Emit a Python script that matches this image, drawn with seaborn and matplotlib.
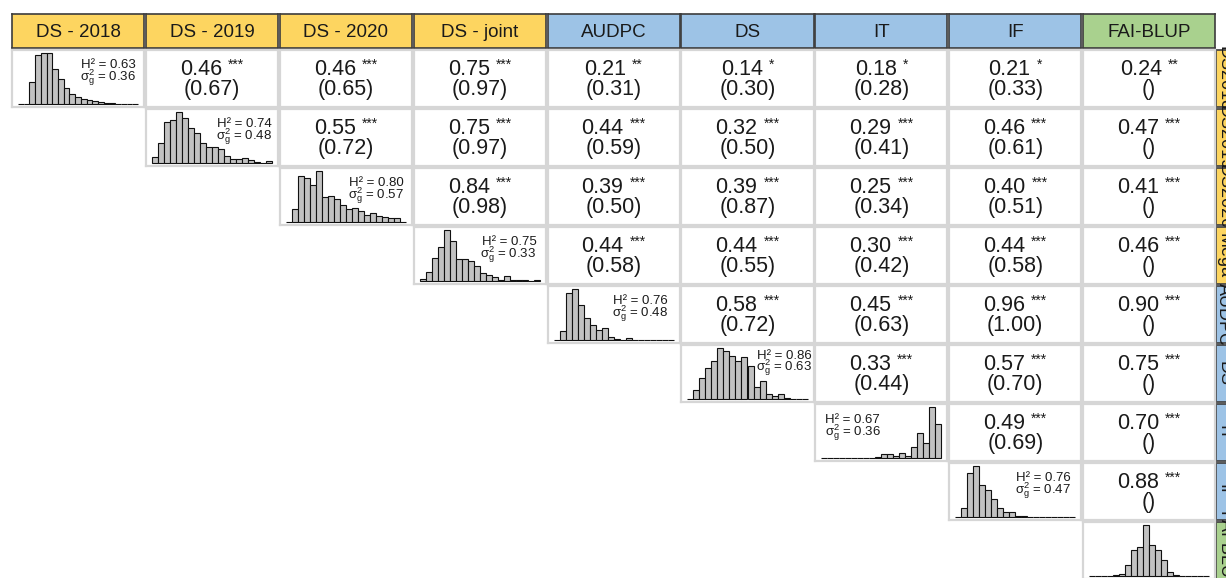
import numpy as np
import pandas as pd
import matplotlib
matplotlib.use("Agg")
import matplotlib.pyplot as plt
import seaborn as sns
from matplotlib.transforms import offset_copy

sns.set_theme(style="white")
plt.rcParams["font.family"] = ["Liberation Sans", "DejaVu Sans"]
plt.rcParams["mathtext.fontset"] = "custom"
plt.rcParams["mathtext.rm"] = "Liberation Sans"
plt.rcParams["mathtext.it"] = "Liberation Sans"

# column / row labels
top_labels = ["DS - 2018", "DS - 2019", "DS - 2020", "DS - joint", "AUDPC", "DS", "IT", "IF", "FAI-BLUP"]
side_labels = ["DS2018", "DS2019", "DS2020", "Mega", "AUDPC", "DS", "IT", "IF", "FAI-BLUP"]
group = ["y", "y", "y", "y", "b", "b", "b", "b", "g"]
group_colors = {"y": "#fdd560", "b": "#9dc3e6", "g": "#a9d18e"}

# upper triangle: phenotypic correlation, significance, genetic correlation
r_pheno = [
    [0.46, 0.46, 0.75, 0.21, 0.14, 0.18, 0.21, 0.24],
    [0.55, 0.75, 0.44, 0.32, 0.29, 0.46, 0.47],
    [0.84, 0.39, 0.39, 0.25, 0.40, 0.41],
    [0.44, 0.44, 0.30, 0.44, 0.46],
    [0.58, 0.45, 0.96, 0.90],
    [0.33, 0.57, 0.75],
    [0.49, 0.70],
    [0.88],
]
signif = [
    ["***", "***", "***", "**", "*", "*", "*", "**"],
    ["***"] * 7,
    ["***"] * 6,
    ["***"] * 5,
    ["***"] * 4,
    ["***"] * 3,
    ["***"] * 2,
    ["***"],
]
r_gen = [
    ["0.67", "0.65", "0.97", "0.31", "0.30", "0.28", "0.33", ""],
    ["0.72", "0.97", "0.59", "0.50", "0.41", "0.61", ""],
    ["0.98", "0.50", "0.87", "0.34", "0.51", ""],
    ["0.58", "0.55", "0.42", "0.58", ""],
    ["0.72", "0.63", "1.00", ""],
    ["0.44", "0.70", ""],
    ["0.69", ""],
    [""],
]

# diagonal: heritability, genetic variance and histogram counts
h2 = [0.63, 0.74, 0.80, 0.75, 0.76, 0.86, 0.67, 0.76, None]
sg2 = [0.36, 0.48, 0.57, 0.33, 0.48, 0.63, 0.36, 0.47, None]
hist_counts = [
    [1, 1, 67, 147, 155, 155, 107, 77, 50, 32, 22, 15, 12, 9, 6, 4, 3, 2, 1, 1, 2],
    [18, 60, 122, 128, 153, 135, 105, 90, 60, 47, 47, 42, 22, 12, 14, 15, 10, 4, 2, 7],
    [2, 42, 142, 135, 115, 158, 78, 82, 70, 52, 40, 45, 35, 22, 28, 20, 18, 14, 12, 2],
    [7, 30, 72, 105, 157, 122, 67, 67, 62, 48, 25, 20, 14, 5, 16, 5, 3, 3, 1, 5],
    [2, 27, 142, 155, 107, 67, 47, 32, 37, 9, 3, 2, 7, 1, 2, 1, 0, 0, 1, 2],
    [2, 30, 65, 94, 117, 157, 147, 132, 115, 127, 102, 37, 57, 17, 9, 17, 4, 1, 0, 2],
    [1, 0, 0, 0, 0, 0, 0, 0, 2, 3, 12, 12, 7, 15, 7, 33, 78, 45, 156, 103],
    [1, 28, 135, 158, 98, 83, 55, 30, 18, 15, 5, 3, 1, 0, 0, 1, 1, 0, 1, 1],
    [0, 1, 1, 1, 3, 8, 33, 80, 89, 155, 95, 80, 48, 14, 4, 1, 0, 1, 0, 1],
]

# where the H2 / sigma label sits inside each diagonal panel (axes fraction)
h2_pos = [(0.94, 0.685, "right"), (0.955, 0.685, "right"), (0.94, 0.685, "right"),
          (0.93, 0.685, "right"), (0.91, 0.685, "right"), (0.99, 0.76, "right"),
          (0.07, 0.67, "left"), (0.92, 0.685, "right"), (0.94, 0.685, "right")]

W, H = 1226, 578
fig = plt.figure(figsize=(W / 100, H / 100), dpi=100)


def add_ax(x, y, w, h):
    return fig.add_axes([x / W, 1 - (y + h) / H, w / W, h / H])


n = len(top_labels)
col_x = [12 + j * 133.9 for j in range(n)]
row_y = [50 + i * 59 for i in range(n)]
cw, rh = 132, 57
renderer = fig.canvas.get_renderer()

# header strips
for j, lab in enumerate(top_labels):
    ax = add_ax(col_x[j], 14, cw, 34)
    ax.set_facecolor(group_colors[group[j]])
    ax.set_xticks([])
    ax.set_yticks([])
    for s in ax.spines.values():
        s.set_color("#3c3c3c")
        s.set_linewidth(1.2)
    ax.text(0.5, 0.47, lab, ha="center", va="center", fontsize=13.5, color="#1a1a1a", transform=ax.transAxes)

# right strips (cut off by the picture edge)
for i, lab in enumerate(side_labels):
    ax = add_ax(1216, row_y[i], 34, rh)
    ax.set_facecolor(group_colors[group[i]])
    ax.set_xticks([])
    ax.set_yticks([])
    for s in ax.spines.values():
        s.set_color("#3c3c3c")
        s.set_linewidth(1.2)
    t = ax.text(0.23, 0.5, lab, ha="center", va="center", rotation=-90, fontsize=13,
                color="#1a1a1a", transform=ax.transAxes)
    t.set_clip_path(ax.patch)

# panels
for i in range(n):
    for j in range(i, n):
        ax = add_ax(col_x[j], row_y[i], cw, rh)
        ax.set_facecolor("white")
        if i == j:
            counts = hist_counts[i]
            nb = len(counts)
            hd = pd.DataFrame({"x": np.arange(nb) + 0.5, "w": counts})
            sns.histplot(data=hd, x="x", weights="w", bins=nb, binrange=(0, nb), ax=ax,
                         color="#c2c2c2", edgecolor="#111111", linewidth=0.8, alpha=1)
            ax.set_xlim(-0.05 * nb, 1.05 * nb)
            ax.set_ylim(-0.05 * max(counts), 1.05 * max(counts))
            ax.set_xlabel("")
            ax.set_ylabel("")
            if h2[i] is not None:
                tx, ty, ha = h2_pos[i]
                ax.text(tx, ty, f"H² = {h2[i]:.2f}", ha=ha, va="baseline", fontsize=9.5,
                        color="#1a1a1a", transform=ax.transAxes)
                ax.text(tx, ty - 0.215, r"$\mathregular{\sigma_g^2}$" + f" = {sg2[i]:.2f}", ha=ha,
                        va="baseline", fontsize=9.5, color="#1a1a1a", transform=ax.transAxes)
        else:
            k = j - i - 1
            num = f"{r_pheno[i][k]:.2f}"
            stars = signif[i][k]
            t1 = ax.text(0.5, 0.561, num, ha="left", va="baseline", fontsize=15.5,
                         color="#1a1a1a", transform=ax.transAxes)
            t2 = ax.text(0.5, 0.667, stars, ha="left", va="baseline", fontsize=10,
                         color="#1a1a1a", transform=ax.transAxes)
            w1 = t1.get_window_extent(renderer).width
            w2 = t2.get_window_extent(renderer).width
            gap = 6
            total = w1 + gap + w2
            t1.set_transform(offset_copy(ax.transAxes, fig=fig, x=-total / 2, y=0, units="dots"))
            t2.set_transform(offset_copy(ax.transAxes, fig=fig, x=-total / 2 + w1 + gap, y=0, units="dots"))
            ax.text(0.5, 0.21, f"({r_gen[i][k]})", ha="center", va="baseline", fontsize=15.5,
                    color="#1a1a1a", transform=ax.transAxes)
        ax.set_xticks([])
        ax.set_yticks([])
        for s in ax.spines.values():
            s.set_color("#d6d6d6")
            s.set_linewidth(1.6)

fig.savefig("out.png", dpi=100)
